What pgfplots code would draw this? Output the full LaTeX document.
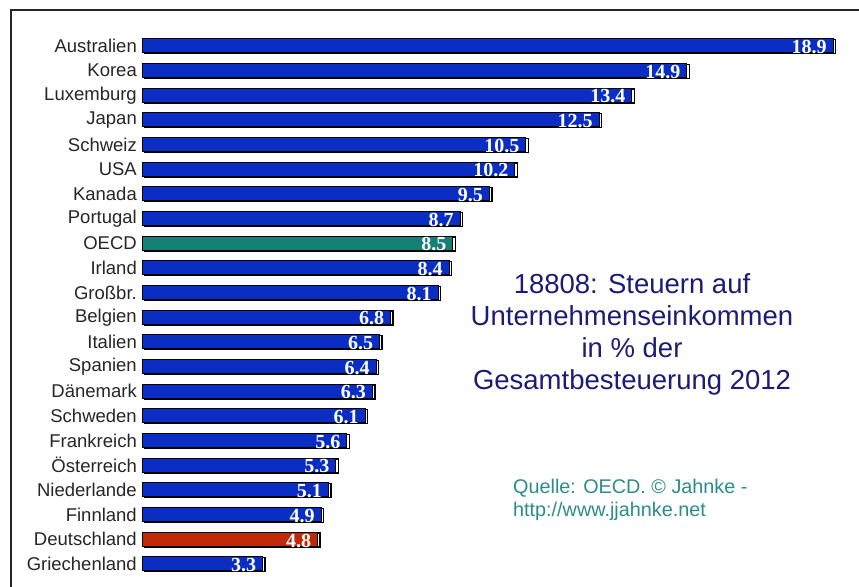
\documentclass[border=0pt]{standalone}
\usepackage{pgfplots}
\pgfplotsset{compat=1.18}
\usepackage{pgfplotstable}
\usepackage{fontspec}
\setmainfont{Liberation Sans}
\newfontfamily\serifb{Liberation Serif}
\definecolor{barblue}{RGB}{10,46,196}
\definecolor{oecdteal}{RGB}{22,128,118}
\definecolor{dered}{RGB}{192,40,8}
\definecolor{titlenavy}{RGB}{28,28,118}
\definecolor{srcteal}{RGB}{44,140,140}

\pgfplotstableread{
val idx
18.9 0
14.9 1
13.4 2
12.5 3
10.5 4
10.2 5
9.5 6
8.7 7
8.5 8
8.4 9
8.1 10
6.8 11
6.5 12
6.4 13
6.3 14
6.1 15
5.6 16
5.3 17
5.1 18
4.9 19
4.8 20
3.3 21
}\alldata

\pgfplotstableread{
val idx
18.9 0
14.9 1
13.4 2
12.5 3
10.5 4
10.2 5
9.5 6
8.7 7
8.4 9
8.1 10
6.8 11
6.5 12
6.4 13
6.3 14
6.1 15
5.6 16
5.3 17
5.1 18
4.9 19
3.3 21
}\bluedata

\pgfplotstableread{
val idx
8.5 8
}\oecddata

\pgfplotstableread{
val idx
4.8 20
}\dedata

\begin{document}
\begin{tikzpicture}
\useasboundingbox (0bp,0bp) rectangle (859bp,587bp);
\fill[white] (0bp,0bp) rectangle (859bp,587bp);
\draw[line width=1.5bp, black!85] (11bp,0bp) -- (11bp,577bp) -- (859bp,577bp);

\begin{axis}[
  at={(142bp,10.7bp)}, anchor=south west,
  scale only axis, width=713bp, height=542.7bp,
  xmin=0, xmax=19.5, ymin=-0.5, ymax=21.5,
  y dir=reverse,
  xbar, bar width=14bp, bar shift=0pt,
  axis line style={draw=none},
  xtick=\empty,
  ytick={0,...,21},
  yticklabels={Australien,Korea,Luxemburg,Japan,Schweiz,USA,Kanada,Portugal,OECD,Irland,Gro{\ss}br.,Belgien,Italien,Spanien,D{\"a}nemark,Schweden,Frankreich,{\"O}sterreich,Niederlande,Finnland,Deutschland,Griechenland},
  major tick length=0pt,
  yticklabel style={font=\fontsize{18.5bp}{19bp}\selectfont, text=black!85, inner sep=0pt, xshift=-5bp},
  clip=false,
  /pgf/number format/assume math mode=true,
  /pgf/number format/fixed, /pgf/number format/precision=1,
  nodes near coords style={anchor=east, inner sep=0pt, xshift=-6bp, yshift=-1.2bp, text=white, font=\serifb\bfseries\fontsize{20bp}{20bp}\selectfont},
]
\addplot[fill=white, draw=black, line width=1.4bp, xshift=2.5bp, yshift=-0.8bp] table[x=val,y=idx] {\alldata};
\addplot[fill=barblue, draw=black, line width=1bp, nodes near coords] table[x=val,y=idx] {\bluedata};
\addplot[fill=oecdteal, draw=black, line width=1bp, nodes near coords] table[x=val,y=idx] {\oecddata};
\addplot[fill=dered, draw=black, line width=1bp, nodes near coords] table[x=val,y=idx] {\dedata};
\end{axis}

\node[align=center, text=titlenavy, font=\fontsize{27.5bp}{32bp}\selectfont] at (632bp,253bp) {18808: Steuern auf\\Unternehmenseinkommen\\in \% der\\Gesamtbesteuerung 2012};
\node[align=left, anchor=north west, inner sep=0pt, text=srcteal, font=\fontsize{19.8bp}{23bp}\selectfont] at (513bp,108bp) {Quelle: OECD. \textcopyright{} Jahnke -\\http://www.jjahnke.net};
\end{tikzpicture}
\end{document}
